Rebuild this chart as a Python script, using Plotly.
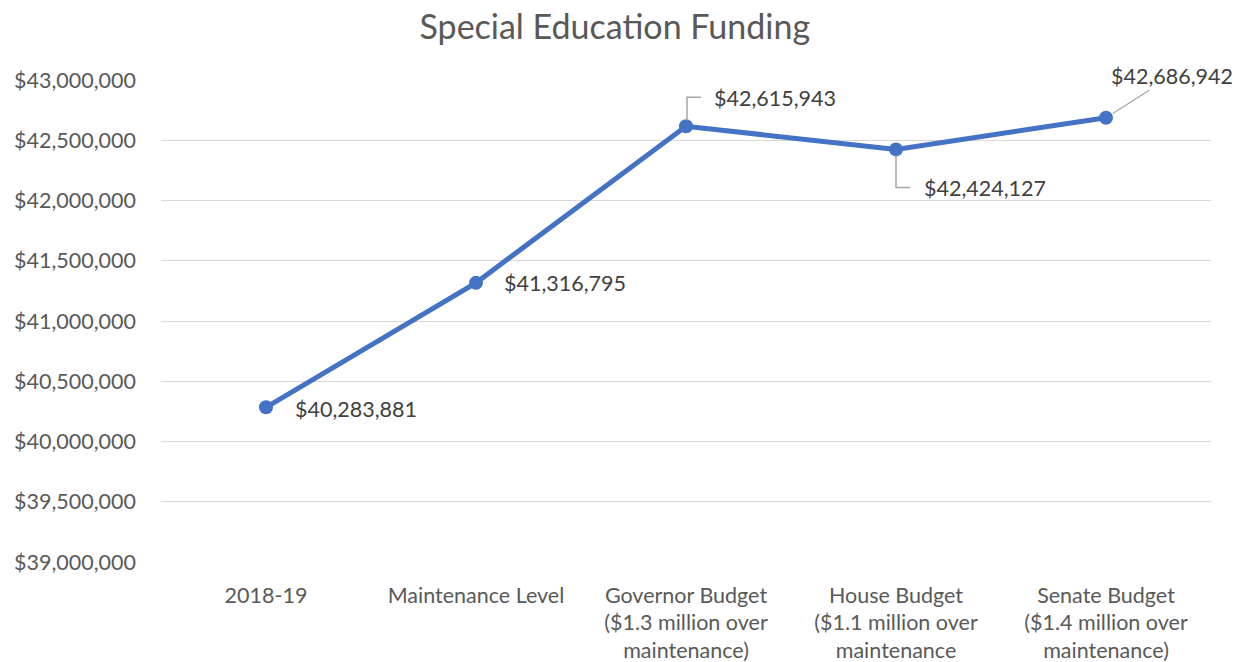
import plotly.graph_objects as go

categories = [
    "2018-19",
    "Maintenance Level",
    "Governor Budget<br>($1.3 million over<br>maintenance)",
    "House Budget<br>($1.1 million over<br>maintenance",
    "Senate Budget<br>($1.4 million over<br>maintenance)",
]
values = [40283881, 41316795, 42615943, 42424127, 42686942]
y_ticks = [39000000, 39500000, 40000000, 40500000, 41000000, 41500000, 42000000, 42500000, 43000000]

FONT = "Lato, 'Open Sans', sans-serif"
GREY = "#595959"
BLUE = "#4472C4"
FS = 21.5

fig = go.Figure()
fig.add_trace(go.Scatter(
    x=list(range(len(categories))), y=values, mode="lines+markers",
    line=dict(color=BLUE, width=5),
    marker=dict(color=BLUE, size=14),
    hoverinfo="skip",
))

def lbl(v):
    return "${:,}".format(v)

# label offsets (pixels) for each point: (xshift, yshift)
offsets = [(27, -2), (26, 0), (26, 28), (26, -39), None]
for i, v in enumerate(values):
    if offsets[i] is None:
        continue
    dx, dy = offsets[i]
    fig.add_annotation(x=i, y=v, text=lbl(v), showarrow=False, xanchor="left",
                       xshift=dx, yshift=dy, font=dict(size=FS, color="#404040", family=FONT))

# Senate label with diagonal leader
fig.add_annotation(x=4, y=values[4], text=lbl(values[4]), showarrow=True, arrowhead=0,
                   arrowwidth=1.3, arrowcolor="#A6A6A6", ax=66, ay=-42,
                   font=dict(size=FS, color="#404040", family=FONT), standoff=8)

# elbow leader lines
fig.add_shape(type="path", xref="x", yref="y", xsizemode="pixel", ysizemode="pixel",
              xanchor=2, yanchor=values[2], path="M 1,6 L 1,29 L 15,29",
              line=dict(color="#A6A6A6", width=1.5))
fig.add_shape(type="path", xref="x", yref="y", xsizemode="pixel", ysizemode="pixel",
              xanchor=3, yanchor=values[3], path="M 0,-6 L 0,-38 L 14,-38",
              line=dict(color="#A6A6A6", width=1.5))

fig.update_layout(
    width=1242, height=662,
    margin=dict(l=161, r=31, t=80, b=100),
    paper_bgcolor="white", plot_bgcolor="white",
    showlegend=False,
    title=dict(text="Special Education Funding", x=0.495, xref="container", xanchor="center",
               y=0.959, yanchor="middle", font=dict(size=34, color=GREY, family=FONT)),
    font=dict(family=FONT, color=GREY, size=FS),
)
fig.update_xaxes(
    tickmode="array", tickvals=list(range(len(categories))), ticktext=categories,
    range=[-0.5, 4.5], showgrid=False, zeroline=False, showline=False,
    tickfont=dict(size=FS, color=GREY, family=FONT), ticks="", ticklabelstandoff=18,
    automargin=False,
)
fig.update_yaxes(
    range=[39000000, 43000000], tickvals=y_ticks, tickformat="$,.0f",
    showgrid=True, gridcolor="#D9D9D9", gridwidth=1.3, zeroline=False, showline=False,
    tickfont=dict(size=FS, color=GREY, family=FONT), ticks="", ticklen=0,
    ticklabelstandoff=24, automargin=False,
)

fig.write_html("out.html")
